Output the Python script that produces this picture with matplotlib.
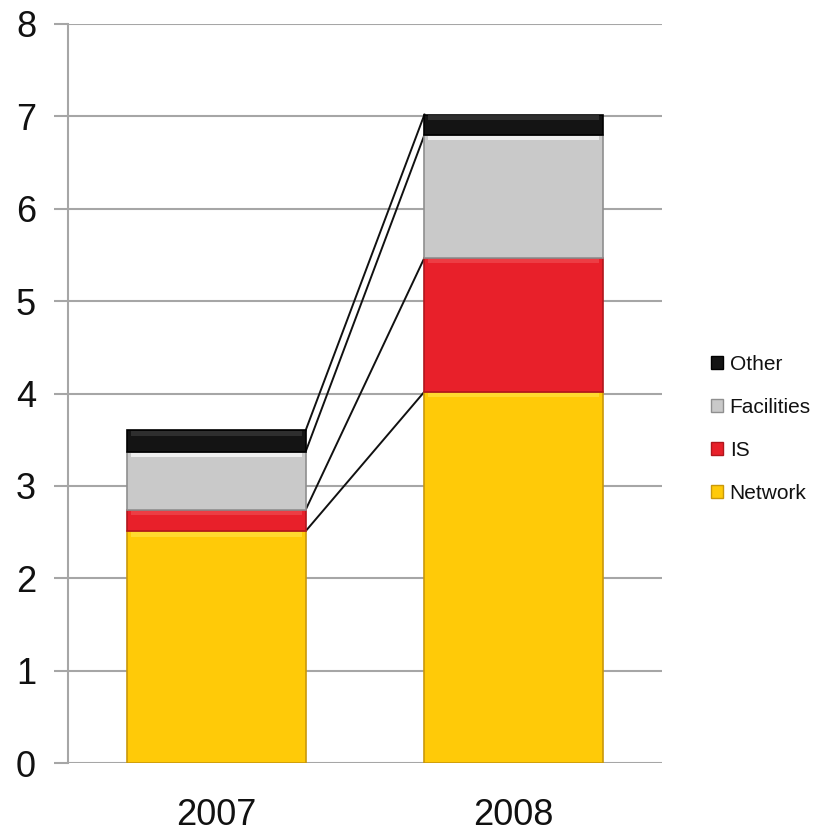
import numpy as np
import matplotlib.pyplot as plt
from matplotlib.patches import Patch

plt.rcParams['font.family'] = ['Liberation Sans', 'DejaVu Sans']

years = ['2007', '2008']
series = ['Network', 'IS', 'Facilities', 'Other']
network = [2.51, 4.02]
is_vals = [0.23, 1.45]
facilities = [0.63, 1.33]
other = [0.23, 0.22]

colors = {'Network': '#FFCA08', 'IS': '#E8202A', 'Facilities': '#C9C9C9', 'Other': '#141414'}
edges = {'Network': '#C9980A', 'IS': '#B0161D', 'Facilities': '#8F8F8F', 'Other': '#000000'}
shine = {'Network': '#FFE040', 'IS': '#F04A50', 'Facilities': '#FFFFFF', 'Other': '#3A3A3A'}

values = [network, is_vals, facilities, other]
x = np.arange(len(years))
width = 0.6

fig = plt.figure(figsize=(8.36, 8.36), dpi=100)
ax = fig.add_axes([0.0813, 0.0873, 0.7107, 0.884])

grid_col = '#A6A6A6'
for yv in range(0, 9):
    ax.axhline(yv, color=grid_col, lw=1.5, zorder=0)

bottom = np.zeros(len(years))
tops = []
for name, vals in zip(series, values):
    vals = np.array(vals)
    ax.bar(x, vals, width, bottom=bottom, color=colors[name],
           edgecolor=edges[name], linewidth=1.2, zorder=2)
    # soft highlight along the top of each segment
    band = np.minimum(0.05, vals * 0.3)
    ax.bar(x, band, width * 0.96, bottom=bottom + vals - band - 0.01,
           color=shine[name], linewidth=0, alpha=0.7, zorder=3)
    bottom = bottom + vals
    tops.append(bottom.copy())

# series lines between the stacked tops
for t in tops:
    ax.plot([x[0] + width / 2, x[1] - width / 2], [t[0], t[1]],
            color='#111111', lw=1.4, zorder=1)

ax.set_xlim(-0.5, 1.5)
ax.set_ylim(0, 8)
ax.set_yticks(range(0, 9))
ax.set_xticks(x)
ax.set_xticklabels(years)

for s in ['top', 'right', 'bottom']:
    ax.spines[s].set_visible(False)
ax.spines['left'].set_color(grid_col)
ax.spines['left'].set_linewidth(1.5)

ax.tick_params(axis='y', length=10, width=1.5, color=grid_col,
               labelsize=26, pad=13, labelcolor='#111111')
ax.tick_params(axis='x', length=0, labelsize=26, pad=25, labelcolor='#111111')

handles = [Patch(facecolor=colors[n], edgecolor=edges[n], label=n) for n in reversed(series)]
fig.legend(handles=handles, loc='center left', bbox_to_anchor=(0.838, 0.487),
           frameon=False, fontsize=15, handlelength=0.6, handleheight=0.6,
           handletextpad=0.3, labelspacing=1.15, borderpad=0,
           labelcolor='#111111')

fig.savefig('out.png', dpi=100)
